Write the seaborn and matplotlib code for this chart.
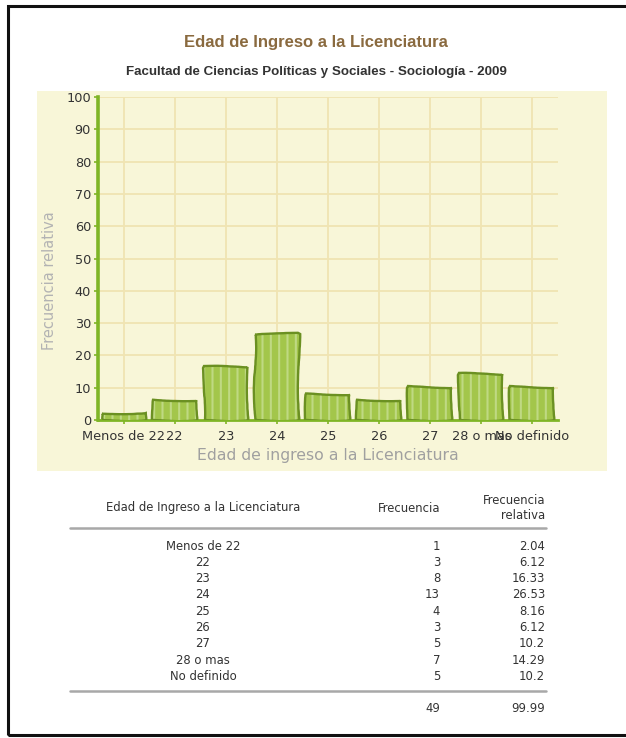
import matplotlib
matplotlib.use("Agg")
import matplotlib.pyplot as plt
import seaborn as sns
import pandas as pd
from matplotlib.patches import Rectangle
from matplotlib.lines import Line2D

# ---- data ----
categories = ["Menos de 22", "22", "23", "24", "25", "26", "27", "28 o mas", "No definido"]
tick_labels = ["Menos de 22", "22", "23", "24", "25", "26", "27", "28 o mas", "No definido"]
frecuencia = [1, 3, 8, 13, 4, 3, 5, 7, 5]
frec_relativa = [2.04, 6.12, 16.33, 26.53, 8.16, 6.12, 10.2, 14.29, 10.2]
total_frec = 49
total_rel = 99.99
y_ticks = [0, 10, 20, 30, 40, 50, 60, 70, 80, 90, 100]

title = "Edad de Ingreso a la Licenciatura"
subtitle = "Facultad de Ciencias Políticas y Sociales - Sociología - 2009"
xlabel = "Edad de ingreso a la Licenciatura"
ylabel = "Frecuencia relativa"
table_headers = ["Edad de Ingreso a la Licenciatura", "Frecuencia", "Frecuencia\nrelativa"]

df = pd.DataFrame({"cat": categories, "rel": frec_relativa})

sns.set_theme(style="white")
plt.rcParams["font.family"] = ["DejaVu Sans"]
plt.rcParams["hatch.linewidth"] = 1.5

W, H = 626, 738
fig = plt.figure(figsize=(W / 100, H / 100), dpi=100)
fig.patch.set_facecolor("white")

def fx(px):
    return px / W

def fy(py):
    return 1 - py / H

# outer frame
fig.add_artist(Rectangle((fx(8), fy(735)), fx(640) - fx(8), fy(6) - fy(735),
                         transform=fig.transFigure, fill=False, edgecolor="#111111",
                         linewidth=2.2, zorder=0))
# chart panel
fig.add_artist(Rectangle((fx(37), fy(471)), fx(607) - fx(37), fy(91) - fy(471),
                         transform=fig.transFigure, facecolor="#f8f6d8", edgecolor="none",
                         zorder=0))

fig.text(fx(316), fy(43), title, ha="center", va="center", fontsize=12,
         fontweight="bold", color="#8a6a3f", family="Liberation Sans")
fig.text(fx(316), fy(72), subtitle, ha="center", va="center", fontsize=9.6,
         fontweight="bold", color="#333333", family="Liberation Sans")

ax = fig.add_axes([fx(98), fy(420), fx(558) - fx(98), fy(97) - fy(420)])
ax.patch.set_alpha(0)

# fill with light vertical streaks
sns.barplot(data=df, x="cat", y="rel", ax=ax, color="#a3c64b", saturation=1,
            width=0.86, edgecolor="#bfd983", linewidth=0, hatch="||", zorder=3)
n_fill = len(ax.patches)
# hand-drawn outline
sns.barplot(data=df, x="cat", y="rel", ax=ax, color="#6b9022", saturation=1,
            width=0.86, fill=False, linewidth=1.7, zorder=4)
for p in ax.patches[n_fill:]:
    p.set_sketch_params(scale=1.2, length=140, randomness=4)

ax.set_ylim(0, 100)
ax.set_xlim(-0.5, len(categories) - 0.5)
ax.set_yticks(y_ticks)
ax.set_xticks(range(len(categories)))
ax.set_xticklabels(tick_labels)
ax.grid(True, color="#f0e4b2", linewidth=1.3, zorder=0)
ax.set_axisbelow(True)

for s in ["top", "right"]:
    ax.spines[s].set_visible(False)
ax.spines["left"].set_color("#7fb526")
ax.spines["left"].set_linewidth(2.6)
ax.spines["bottom"].set_color("#7fb526")
ax.spines["bottom"].set_linewidth(2.0)
ax.tick_params(axis="both", direction="out", length=3, width=1.2, color="#7fb526",
               labelsize=9.3, labelcolor="#333333", pad=2)
ax.tick_params(axis="x", pad=4)
ax.tick_params(axis="y", left=True)
ax.tick_params(axis="x", bottom=True)

ax.set_xlabel(xlabel, fontsize=11.3, color="#a0a0a0", labelpad=4)
ax.set_ylabel(ylabel, fontsize=10.5, color="#b3b3b3")
ax.yaxis.set_label_coords(-0.09, 0.43)

# ---- table ----
tc = "#333333"
tfs = 8.4
col1_x, col2_x, col3_x = 203, 440, 545
fig.text(fx(col1_x), fy(507), table_headers[0], ha="center", va="center", fontsize=tfs, color=tc)
fig.text(fx(col2_x), fy(508), table_headers[1], ha="right", va="center", fontsize=tfs, color=tc)
fig.text(fx(col3_x), fy(508), table_headers[2], ha="right", va="center", fontsize=tfs, color=tc,
         linespacing=1.15)
fig.add_artist(Line2D([fx(70), fx(546)], [fy(528), fy(528)], transform=fig.transFigure,
                      color="#a8a8a8", linewidth=1.8))
row0, dy = 546, 16.3
for i, (c, f, r) in enumerate(zip(categories, frecuencia, frec_relativa)):
    y = fy(row0 + i * dy)
    fig.text(fx(col1_x), y, c, ha="center", va="center", fontsize=tfs, color=tc)
    fig.text(fx(col2_x), y, str(f), ha="right", va="center", fontsize=tfs, color=tc)
    fig.text(fx(col3_x), y, f"{r:g}", ha="right", va="center", fontsize=tfs, color=tc)
fig.add_artist(Line2D([fx(70), fx(546)], [fy(691), fy(691)], transform=fig.transFigure,
                      color="#a8a8a8", linewidth=1.8))
fig.text(fx(col2_x), fy(708), str(total_frec), ha="right", va="center", fontsize=tfs, color=tc)
fig.text(fx(col3_x), fy(708), f"{total_rel:g}", ha="right", va="center", fontsize=tfs, color=tc)

fig.savefig("out.png", dpi=100, facecolor="white")
